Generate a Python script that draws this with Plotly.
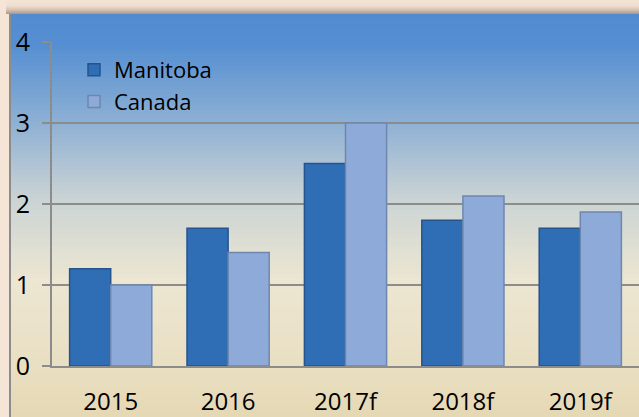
import plotly.graph_objects as go

categories = ["2015", "2016", "2017f", "2018f", "2019f"]
manitoba = [1.2, 1.7, 2.5, 1.8, 1.7]
canada = [1.0, 1.4, 3.0, 2.1, 1.9]
y_ticks = [0, 1, 2, 3, 4]

W, H = 639, 417
L, R, T, B = 52, 0, 42, 51
PW = W - L - R
PH = H - T - B


def px_to_paper_y(yp):
    return (H - B - yp) / PH


def px_to_paper_x(xp):
    return (xp - L) / PW


def lerp(c1, c2, t):
    return tuple(round(a + (b - a) * t) for a, b in zip(c1, c2))


stops = [
    (14, (82, 139, 207)),
    (45, (85, 143, 210)),
    (120, (140, 175, 212)),
    (200, (203, 212, 212)),
    (280, (236, 230, 210)),
    (366, (233, 223, 194)),
    (417, (229, 216, 180)),
]


def color_at(yp):
    for (y1, c1), (y2, c2) in zip(stops[:-1], stops[1:]):
        if y1 <= yp <= y2:
            return lerp(c1, c2, (yp - y1) / (y2 - y1))
    return stops[-1][1]


shapes = []
# shadow above panel
shadow = [(0, (245, 229, 214)), (6, (238, 220, 204)), (10, (214, 194, 178)), (14, (170, 150, 136))]
for (y1, c1), (y2, c2) in zip(shadow[:-1], shadow[1:]):
    n = 4
    for i in range(n):
        a = y1 + (y2 - y1) * i / n
        b = y1 + (y2 - y1) * (i + 1) / n
        c = lerp(c1, c2, (i + 0.5) / n)
        shapes.append(dict(type="rect", xref="paper", yref="paper",
                           x0=px_to_paper_x(6), x1=px_to_paper_x(W + 2),
                           y0=px_to_paper_y(b), y1=px_to_paper_y(a),
                           fillcolor=f"rgb{c}", line_width=0, layer="below"))

# panel gradient
step = 4
y = 14
while y < H:
    y2 = min(y + step, H + 2)
    c = color_at(y + step / 2)
    shapes.append(dict(type="rect", xref="paper", yref="paper",
                       x0=px_to_paper_x(9), x1=px_to_paper_x(W + 2),
                       y0=px_to_paper_y(y2 + 0.5), y1=px_to_paper_y(y),
                       fillcolor=f"rgb{c}", line_width=0, layer="below"))
    y += step
# left border of panel
shapes.append(dict(type="line", xref="paper", yref="paper",
                   x0=px_to_paper_x(10), x1=px_to_paper_x(10),
                   y0=px_to_paper_y(H + 2), y1=px_to_paper_y(14),
                   line=dict(color="rgb(140,140,140)", width=2), layer="below"))

fig = go.Figure()
fig.add_trace(go.Bar(
    name="Manitoba", x=categories, y=manitoba,
    marker=dict(color="#2f6db5", line=dict(color="#25548c", width=1.5)),
))
fig.add_trace(go.Bar(
    name="Canada", x=categories, y=canada,
    marker=dict(color="#8eaad8", line=dict(color="#6f87b0", width=1.5)),
))

fig.update_layout(
    width=W, height=H,
    margin=dict(l=L, r=R, t=T, b=B, pad=0),
    paper_bgcolor="rgb(245,229,214)",
    plot_bgcolor="rgba(0,0,0,0)",
    barmode="group", bargap=0.3, bargroupgap=0,
    font=dict(family="Open Sans", size=24, color="black"),
    shapes=shapes,
    showlegend=True,
    legend=dict(x=px_to_paper_x(74), y=px_to_paper_y(49), xanchor="left", yanchor="top",
                bgcolor="rgba(0,0,0,0)", font=dict(size=22), itemwidth=30,
                traceorder="normal", tracegroupgap=0),
)
fig.update_xaxes(
    range=[-0.5, 4.5], showline=True, linecolor="rgb(140,140,140)", linewidth=2,
    ticks="", showgrid=False, ticklabelstandoff=13, fixedrange=True,
)
fig.update_yaxes(
    range=[0, 4], tickvals=y_ticks, ticktext=[str(v) for v in y_ticks],
    showgrid=True, gridcolor="rgb(140,140,140)", gridwidth=2,
    showline=True, linecolor="rgb(140,140,140)", linewidth=2,
    ticks="outside", ticklen=8, tickwidth=2, tickcolor="rgb(140,140,140)",
    zeroline=False, ticklabelstandoff=7, tickfont=dict(size=25), fixedrange=True,
)

fig.write_html(
    "out.html",
    config={"displayModeBar": False},
    post_script="document.body.style.margin='0';document.body.style.overflow='hidden';",
)
